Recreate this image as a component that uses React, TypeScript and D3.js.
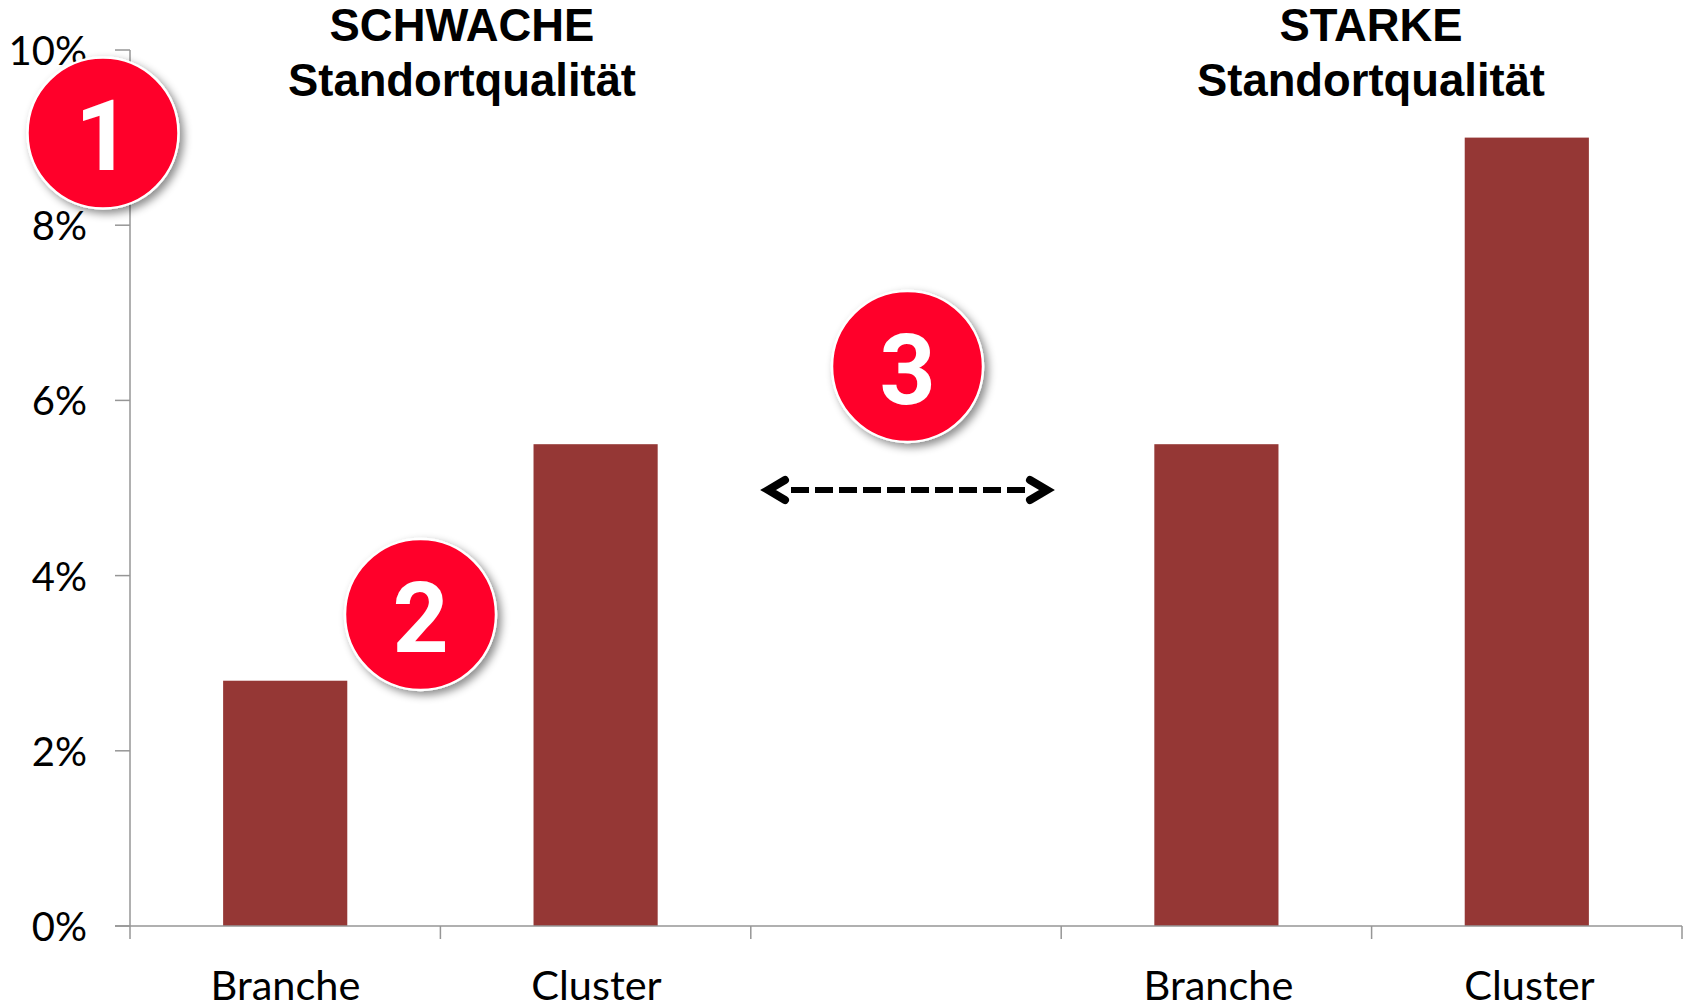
import React from "react";
import * as d3 from "d3";

const categories = ["a:Branche", "a:Cluster", "gap", "b:Branche", "b:Cluster"];
const categoryLabels = ["Branche", "Cluster", "", "Branche", "Cluster"];
const values = [2.8, 5.5, null, 5.5, 9.0];
const yTicks = [0, 2, 4, 6, 8, 10];
const titles = [
  { lines: ["SCHWACHE", "Standortqualität"], x: 462 },
  { lines: ["STARKE", "Standortqualität"], x: 1371 },
];
const badges = [
  { n: "1", x: 103, y: 133 },
  { n: "2", x: 420.5, y: 614.5 },
  { n: "3", x: 907.5, y: 366.5 },
];

const W = 1685, H = 1005;
const x = d3.scaleBand().domain(categories).range([130, 1682]).paddingInner(0.6).paddingOuter(0.3);
const y = d3.scaleLinear().domain([0, 10]).range([926, 50]);
const band = d3.scaleBand().domain(categories).range([130, 1682]);
const labelBand = d3.scaleBand().domain(categories).range([130, 1685]);
const axis = "#969696";
const bodyFont = "Lato, Carlito, sans-serif";
const boldFont = "'Liberation Sans', Arial, sans-serif";

export default function App() {
  const edges = [...categories.map((c) => band(c)!), 1682];
  return (
    <svg width={W} height={H} viewBox={`0 0 ${W} ${H}`} style={{ position: "absolute", left: 0, top: 0, background: "#fff" }}>
      <defs>
        <filter id="sh" x="-30%" y="-30%" width="170%" height="170%">
          <feDropShadow dx="4" dy="4" stdDeviation="4" floodColor="#000" floodOpacity="0.45" />
        </filter>
      </defs>
      {categories.map((c, i) =>
        values[i] == null ? null : (
          <rect key={c} x={x(c)} width={x.bandwidth()} y={y(values[i] as number)} height={y(0) - y(values[i] as number)} fill="#953735" />
        )
      )}
      <line x1={130} x2={130} y1={y(10)} y2={y(0) + 13} stroke={axis} strokeWidth={1.5} />
      <line x1={115} x2={1682} y1={y(0)} y2={y(0)} stroke={axis} strokeWidth={1.5} />
      {yTicks.map((t) => (
        <g key={t}>
          <line x1={115} x2={130} y1={y(t)} y2={y(t)} stroke={axis} strokeWidth={1.5} />
          <text x={87} y={y(t) + 15} textAnchor="end" fontFamily={bodyFont} fontSize={40} fill="#000">{t}%</text>
        </g>
      ))}
      {edges.slice(1).map((e, i) => (
        <line key={i} x1={e} x2={e} y1={y(0)} y2={y(0) + 13} stroke={axis} strokeWidth={1.5} />
      ))}
      {categories.map((c, i) =>
        categoryLabels[i] ? (
          <text key={c} x={labelBand(c)! + labelBand.bandwidth() / 2} y={1000} textAnchor="middle" fontFamily={bodyFont} fontSize={41.5} fill="#000">{categoryLabels[i]}</text>
        ) : null
      )}
      {titles.map((t) => (
        <text key={t.x} textAnchor="middle" fontFamily={boldFont} fontWeight="bold" fontSize={45.4} fill="#000">
          <tspan x={t.x} y={41}>{t.lines[0]}</tspan>
          <tspan x={t.x} y={96}>{t.lines[1]}</tspan>
        </text>
      ))}
      <line x1={791} x2={1026} y1={490} y2={490} stroke="#000" strokeWidth={6} strokeDasharray="18 6" />
      <path d="M785 480 L768 490 L785 500" fill="none" stroke="#000" strokeWidth={8} strokeLinecap="round" strokeMiterlimit={6} />
      <path d="M1030 480 L1047 490 L1030 500" fill="none" stroke="#000" strokeWidth={8} strokeLinecap="round" strokeMiterlimit={6} />
      {badges.map((b) => (
        <g key={b.n}>
          <circle cx={b.x} cy={b.y} r={75.5} fill="#ff0029" stroke="#fff" strokeWidth={2.5} filter="url(#sh)" />
          <text x={b.x} y={b.y + 37} textAnchor="middle" fontFamily="Roboto, sans-serif" fontWeight="bold" fontSize={98} fill="#fff">{b.n}</text>
        </g>
      ))}
    </svg>
  );
}
